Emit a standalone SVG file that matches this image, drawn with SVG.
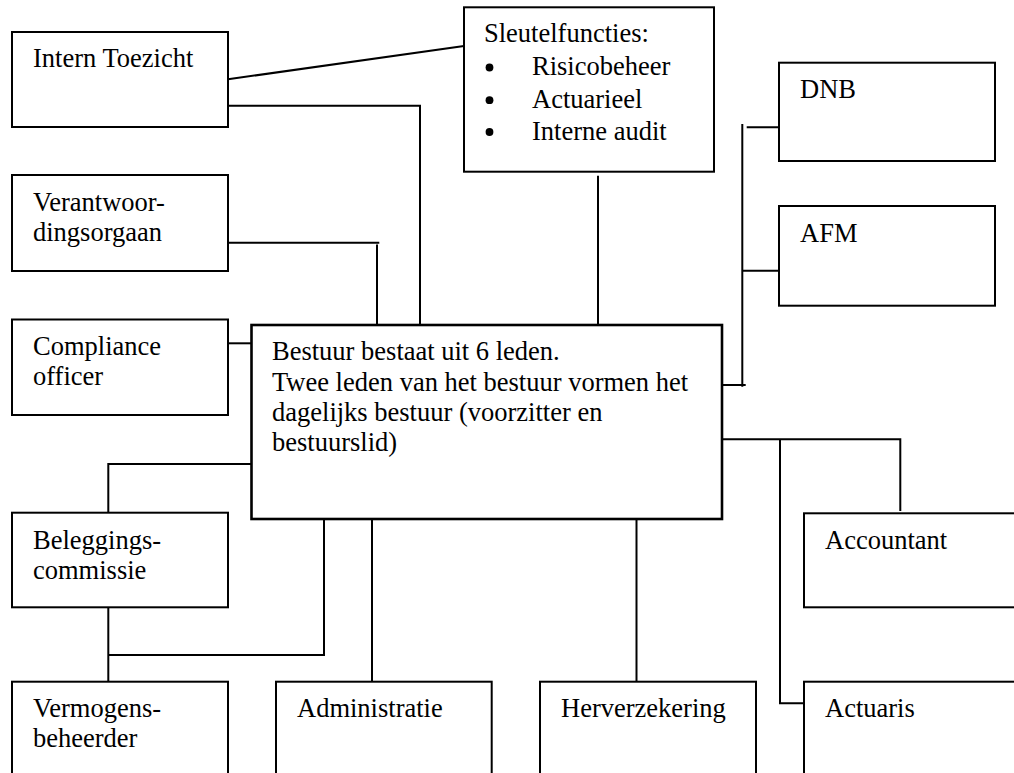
<svg xmlns="http://www.w3.org/2000/svg" width="1014" height="773" viewBox="0 0 1014 773">
<style>
.box{fill:#fff;stroke:#000;stroke-width:2}
.main{fill:#fff;stroke:#000;stroke-width:2.6}
.lbl{font-family:"Liberation Serif","Times New Roman",serif;font-size:26.5px;fill:#000}
.bul{fill:#000}
.conn path{fill:none;stroke:#000;stroke-width:2}
</style>
<rect width="1014" height="773" fill="#fff"/>
<g class="conn" id="connectors">
<path d="M228,79.3 L464,46"/>
<path d="M228,105.7 H420 V325"/>
<path d="M228,242.7 H379.3"/>
<path d="M377,244.5 V325"/>
<path d="M598,175.7 V325"/>
<path d="M228,343.3 H251.5"/>
<path d="M251.5,464 H108.3 V512"/>
<path d="M108.3,607 V681.7"/>
<path d="M108.3,655 H324 V519"/>
<path d="M372,519 V681.7"/>
<path d="M636.5,519 V681.7"/>
<path d="M722,439.3 H900.3 V511"/>
<path d="M780,439.3 V703.3 H804"/>
<path d="M742.3,124 V386.7"/>
<path d="M746.7,127.3 H779"/>
<path d="M742.3,270.7 H779"/>
<path d="M722,385 H745.7"/>
</g>
<g id="intern-toezicht">
<rect class="box" x="12" y="32" width="216" height="95"/>
<text class="lbl" x="33" y="67">Intern Toezicht</text>
</g>
<g id="verantwoordingsorgaan">
<rect class="box" x="12" y="175" width="216" height="96"/>
<text class="lbl" x="33" y="211">Verantwoor-</text>
<text class="lbl" x="33" y="241">dingsorgaan</text>
</g>
<g id="compliance">
<rect class="box" x="12" y="319.5" width="216" height="95.5"/>
<text class="lbl" x="33" y="355">Compliance</text>
<text class="lbl" x="33" y="385">officer</text>
</g>
<g id="sleutelfuncties">
<rect class="box" x="464" y="7.3" width="250" height="164.4"/>
<text class="lbl" x="484" y="42">Sleutelfuncties:</text>
<circle class="bul" cx="489.5" cy="67.5" r="3.9"/>
<text class="lbl" x="532" y="75">Risicobeheer</text>
<circle class="bul" cx="489.5" cy="100.2" r="3.9"/>
<text class="lbl" x="532" y="107.7">Actuarieel</text>
<circle class="bul" cx="489.5" cy="132" r="3.9"/>
<text class="lbl" x="532" y="139.5">Interne audit</text>
</g>
<g id="dnb">
<rect class="box" x="779" y="62.7" width="216" height="98.3"/>
<text class="lbl" x="800" y="98">DNB</text>
</g>
<g id="afm">
<rect class="box" x="779" y="206" width="216" height="99.7"/>
<text class="lbl" x="800" y="242">AFM</text>
</g>
<g id="bestuur">
<rect class="main" x="251.5" y="325" width="470.5" height="194"/>
<text class="lbl" x="272" y="360">Bestuur bestaat uit 6 leden.</text>
<text class="lbl" x="272" y="390.5">Twee leden van het bestuur vormen het</text>
<text class="lbl" x="272" y="420.5">dagelijks bestuur (voorzitter en</text>
<text class="lbl" x="272" y="450.5">bestuurslid)</text>
</g>
<g id="beleggingscommissie">
<rect class="box" x="12" y="512.7" width="216" height="94.6"/>
<text class="lbl" x="33" y="549">Beleggings-</text>
<text class="lbl" x="33" y="579">commissie</text>
</g>
<g id="accountant">
<rect class="box" x="804" y="513.3" width="230" height="94"/>
<text class="lbl" x="825" y="548.5">Accountant</text>
</g>
<g id="vermogensbeheerder">
<rect class="box" x="12" y="681.7" width="216" height="110"/>
<text class="lbl" x="33" y="716.7">Vermogens-</text>
<text class="lbl" x="33" y="747">beheerder</text>
</g>
<g id="administratie">
<rect class="box" x="276" y="681.7" width="215.7" height="110"/>
<text class="lbl" x="297" y="716.7">Administratie</text>
</g>
<g id="herverzekering">
<rect class="box" x="540" y="681.7" width="216" height="110"/>
<text class="lbl" x="561" y="716.7">Herverzekering</text>
</g>
<g id="actuaris">
<rect class="box" x="804" y="681.7" width="230" height="110"/>
<text class="lbl" x="825" y="716.5">Actuaris</text>
</g>
</svg>
